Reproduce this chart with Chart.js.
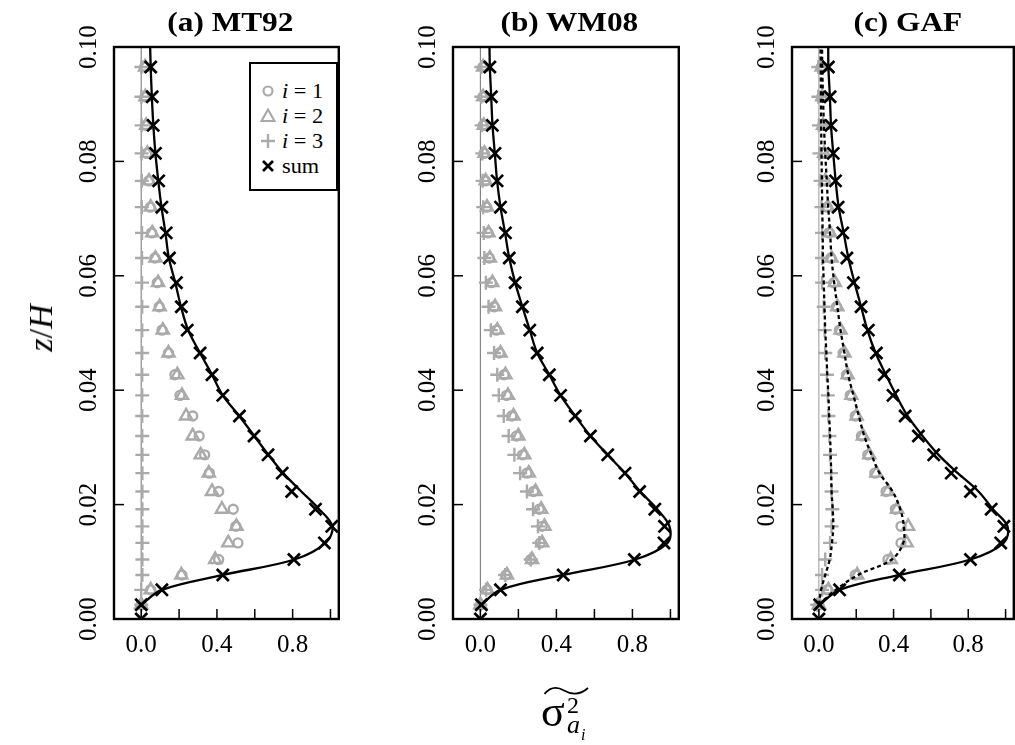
<!DOCTYPE html>
<html>
<head>
<meta charset="utf-8">
<script src="https://cdn.jsdelivr.net/npm/chart.js@4.4.1/dist/chart.umd.min.js"></script>
<style>
  html, body { margin:0; padding:0; background:#fff; }
  body { width:1015px; height:745px; overflow:hidden; position:relative; font-family:'Liberation Serif', 'Times New Roman', serif; }
  canvas { position:absolute; top:0; }
  .title { position:absolute; top:9px; width:300px; text-align:center; font-weight:bold; font-size:27px; line-height:27px; }
  .title span { display:inline-block; transform:scaleX(1.16); }
  #legend { position:absolute; left:249px; top:62px; width:85px; height:125px; border:2px solid #000; background:#fff; z-index:5; }
  .lrow { position:absolute; left:0; width:85px; height:24px; }
  .lrow svg { position:absolute; left:9px; top:4px; }
  .lrow .t { position:absolute; left:31px; top:0px; font-size:21px; line-height:24px; transform:scaleX(1.06); transform-origin:left center; white-space:nowrap; word-spacing:0px; }
  #ylab { position:absolute; left:41px; top:328px; transform:translate(-50%,-50%) rotate(-90deg); font-size:34px; white-space:nowrap; }
  #xlab span { position:absolute; line-height:1; white-space:nowrap; }
</style>
</head>
<body>
<canvas id="ca" width="350" height="745" style="left:0px"></canvas>
<canvas id="cb" width="340" height="745" style="left:350px"></canvas>
<canvas id="cc" width="335" height="745" style="left:690px"></canvas>

<div class="title" style="left:80px"><span>(a) MT92</span></div>
<div class="title" style="left:419px"><span>(b) WM08</span></div>
<div class="title" style="left:758px"><span>(c) GAF</span></div>

<div id="legend">
  <div class="lrow" style="top:15px">
    <svg width="16" height="16"><circle cx="8" cy="8" r="4.5" fill="none" stroke="#aaaaaa" stroke-width="2.2"/></svg>
    <div class="t"><i>i</i> = 1</div>
  </div>
  <div class="lrow" style="top:40px">
    <svg width="16" height="16"><polygon points="8,1.5 14.5,13 1.5,13" fill="none" stroke="#aaaaaa" stroke-width="2.2"/></svg>
    <div class="t"><i>i</i> = 2</div>
  </div>
  <div class="lrow" style="top:65px">
    <svg width="16" height="16"><path d="M8,1 V15 M1,8 H15" stroke="#aaaaaa" stroke-width="2.4"/></svg>
    <div class="t"><i>i</i> = 3</div>
  </div>
  <div class="lrow" style="top:90px">
    <svg width="16" height="16"><path d="M3,3 L13,13 M13,3 L3,13" stroke="#000" stroke-width="2.7"/></svg>
    <div class="t">sum</div>
  </div>
</div>

<div id="ylab"><i>z</i>/<i>H</i></div>

<div id="xlab">
  <svg style="position:absolute;left:543px;top:686px" width="47" height="11"><path d="M1.5,8 C8,0 15,1 21,4.5 C28,8.5 36,10 45,2" fill="none" stroke="#000" stroke-width="1.8"/></svg>
  <span style="left:541px;top:690px;font-size:44px">σ</span>
  <span style="left:567px;top:693px;font-size:24px">2</span>
  <span style="left:567px;top:712px;font-size:26px"><i>a</i></span>
  <span style="left:581px;top:727px;font-size:16px"><i>i</i></span>
</div>

<script>
// ---------------- data ----------------
// heights z/H of the marker levels
const Z = [0, 0.0025, 0.0051, 0.0077, 0.0104, 0.0133, 0.0162, 0.0192, 0.0223, 0.0255, 0.0287, 0.0320, 0.0355, 0.0391, 0.0427, 0.0465, 0.0505, 0.0546, 0.0588, 0.0631, 0.0675, 0.0720, 0.0766, 0.0814, 0.0863, 0.0913, 0.0965];
// heights of the curve nodes
const LZ = [0.0025, 0.0051, 0.0077, 0.0104, 0.0133, 0.0162, 0.0192, 0.0223, 0.0255, 0.0287, 0.0320, 0.0355, 0.0391, 0.0427, 0.0465, 0.0505, 0.0546, 0.0588, 0.0631, 0.0675, 0.0720, 0.0766, 0.0814, 0.0863, 0.0913, 0.0965, 0.1];

// (a) MT92
const A_I1  = [null, 0.0, 0.05, 0.215, 0.409, 0.511, 0.50, 0.486, 0.409, 0.36, 0.335, 0.306, 0.272, 0.205, 0.178, 0.144, 0.11, 0.095, 0.085, 0.072, 0.055, 0.048, 0.04, 0.03, 0.025, 0.02, 0.018];
const A_I2  = [null, 0.0, 0.05, 0.212, 0.391, 0.46, 0.503, 0.426, 0.374, 0.357, 0.314, 0.272, 0.237, 0.215, 0.191, 0.144, 0.114, 0.097, 0.089, 0.075, 0.058, 0.05, 0.041, 0.032, 0.026, 0.022, 0.02];
const A_I3  = [null, 0.0, 0.0, 0.006, 0.006, 0.006, 0.006, 0.006, 0.006, 0.006, 0.006, 0.005, 0.005, 0.005, 0.005, 0.005, 0.005, 0.005, 0.004, 0.004, 0.004, 0.003, 0.003, 0.002, 0.002, 0.001, 0.001];
const A_SUM = [0.0, 0.0, 0.109, 0.431, 0.807, 0.968, 1.007, 0.921, 0.795, 0.745, 0.670, 0.596, 0.519, 0.431, 0.374, 0.311, 0.243, 0.212, 0.186, 0.149, 0.132, 0.109, 0.092, 0.075, 0.063, 0.058, 0.050];
const A_LINE = [0.0, 0.109, 0.431, 0.81, 0.975, 1.01, 0.94, 0.846, 0.75, 0.672, 0.597, 0.518, 0.431, 0.374, 0.311, 0.248, 0.21, 0.18, 0.146, 0.128, 0.107, 0.09, 0.075, 0.064, 0.056, 0.050, 0.047];

// (b) WM08
const B_I1  = [null, 0.0, 0.035, 0.135, 0.265, 0.315, 0.325, 0.31, 0.28, 0.245, 0.222, 0.19, 0.165, 0.138, 0.125, 0.1, 0.084, 0.072, 0.058, 0.047, 0.04, 0.033, 0.026, 0.02, 0.016, 0.014, 0.013];
const B_I2  = [null, 0.0, 0.037, 0.14, 0.272, 0.325, 0.337, 0.32, 0.29, 0.255, 0.231, 0.2, 0.174, 0.145, 0.132, 0.106, 0.089, 0.077, 0.063, 0.05, 0.043, 0.035, 0.028, 0.022, 0.018, 0.015, 0.015];
const B_I3  = [null, 0.0, 0.03, 0.13, 0.265, 0.31, 0.303, 0.277, 0.245, 0.209, 0.179, 0.149, 0.123, 0.097, 0.089, 0.072, 0.055, 0.043, 0.029, 0.021, 0.018, 0.015, 0.012, 0.01, 0.007, 0.005, 0.005];
const B_SUM = [0.0, 0.005, 0.106, 0.436, 0.810, 0.966, 0.969, 0.918, 0.838, 0.761, 0.670, 0.579, 0.499, 0.422, 0.363, 0.299, 0.260, 0.221, 0.183, 0.152, 0.132, 0.106, 0.088, 0.077, 0.063, 0.058, 0.050];
const B_LINE = [0.005, 0.106, 0.436, 0.815, 0.985, 0.995, 0.93, 0.841, 0.761, 0.670, 0.579, 0.499, 0.422, 0.363, 0.299, 0.26, 0.221, 0.183, 0.152, 0.13, 0.106, 0.088, 0.076, 0.064, 0.057, 0.05, 0.048];

// (c) GAF
const C_I1  = [null, 0.0, 0.045, 0.195, 0.37, 0.44, 0.44, 0.41, 0.36, 0.3, 0.262, 0.228, 0.195, 0.168, 0.148, 0.13, 0.11, 0.094, 0.08, 0.064, 0.055, 0.044, 0.031, 0.025, 0.02, 0.016, 0.013];
const C_I2  = [null, 0.0, 0.051, 0.205, 0.385, 0.47, 0.478, 0.419, 0.37, 0.308, 0.270, 0.236, 0.202, 0.174, 0.154, 0.137, 0.116, 0.099, 0.086, 0.068, 0.06, 0.048, 0.034, 0.028, 0.022, 0.018, 0.015];
const C_I3  = [null, -0.009, 0.017, 0.017, 0.034, 0.06, 0.068, 0.072, 0.068, 0.065, 0.06, 0.056, 0.051, 0.048, 0.043, 0.034, 0.031, 0.026, 0.017, 0.017, 0.017, 0.014, 0.009, 0.003, 0.0, -0.003, -0.003];
const C_SUM = [0.0, 0.004, 0.111, 0.431, 0.812, 0.974, 0.991, 0.923, 0.812, 0.709, 0.615, 0.533, 0.462, 0.397, 0.350, 0.308, 0.265, 0.226, 0.185, 0.150, 0.128, 0.103, 0.089, 0.077, 0.065, 0.060, 0.051];
const C_LINE = [0.004, 0.111, 0.431, 0.812, 0.99, 1.01, 0.932, 0.855, 0.744, 0.641, 0.555, 0.475, 0.414, 0.359, 0.304, 0.26, 0.226, 0.191, 0.158, 0.133, 0.106, 0.09, 0.077, 0.065, 0.059, 0.051, 0.05];
const C_DOT2 = [0.0, 0.09, 0.21, 0.39, 0.452, 0.455, 0.436, 0.395, 0.325, 0.282, 0.243, 0.214, 0.185, 0.157, 0.137, 0.116, 0.099, 0.082, 0.068, 0.06, 0.05, 0.042, 0.034, 0.027, 0.022, 0.018, 0.017];
const C_DOT3 = [0.0, 0.012, 0.034, 0.058, 0.07, 0.077, 0.074, 0.068, 0.066, 0.063, 0.06, 0.055, 0.051, 0.045, 0.04, 0.034, 0.03, 0.026, 0.022, 0.02, 0.018, 0.016, 0.014, 0.012, 0.011, 0.01, 0.009];

const X_TICKS = [0, 0.2, 0.4, 0.6, 0.8, 1.0];
const X_LABELS = ['0.0', '', '0.4', '', '0.8', ''];
const Y_TICKS = [0, 0.02, 0.04, 0.06, 0.08, 0.10];
const Y_LABELS = ['0.00', '0.02', '0.04', '0.06', '0.08', '0.10'];
const X_RANGE = [-0.144, 1.044];
const Y_RANGE = [0, 0.1];

// ---------------- helpers ----------------
const GREY = '#aaaaaa';
function pts(zs, xs) {
  const out = [];
  for (let i = 0; i < zs.length; i++) if (xs[i] !== null) out.push({x: xs[i], y: zs[i]});
  return out;
}
function markers(zs, xs, style, color, r, bw, order) {
  return { data: pts(zs, xs), showLine: false, pointStyle: style, pointRadius: r, pointHoverRadius: r,
    pointBorderColor: color, pointBackgroundColor: 'rgba(0,0,0,0)', pointBorderWidth: bw, order: order, clip: 0 };
}
function curve(zs, xs, dash, order) {
  return { data: pts(zs, xs), showLine: true, pointRadius: 0, borderColor: '#000', borderWidth: 2.3,
    borderDash: dash || [], tension: 0.35, fill: false, order: order, clip: 0 };
}
function zeroLine(color, w) {
  return { data: [{x: 0, y: Y_RANGE[0]}, {x: 0, y: Y_RANGE[1]}], showLine: true, pointRadius: 0,
    borderColor: color, borderWidth: w, order: 20, clip: 0 };
}

const frame = {
  id: 'frame',
  afterDatasetsDraw(chart) {
    const {ctx, chartArea: a, scales: {x, y}} = chart;
    ctx.save();
    ctx.strokeStyle = '#000';
    ctx.lineWidth = 1.5;
    X_TICKS.forEach(v => { const p = x.getPixelForValue(v); ctx.beginPath(); ctx.moveTo(p, a.bottom); ctx.lineTo(p, a.bottom - 10); ctx.stroke(); });
    Y_TICKS.forEach(v => { const p = y.getPixelForValue(v); ctx.beginPath(); ctx.moveTo(a.left, p); ctx.lineTo(a.left + 10, p); ctx.stroke(); });
    ctx.lineWidth = 2.4;
    ctx.strokeRect(a.left, a.top, a.right - a.left, a.bottom - a.top);
    ctx.restore();
  }
};

Chart.defaults.font.family = "'Liberation Serif', 'Times New Roman', serif";
Chart.defaults.color = '#000';

function makeChart(id, datasets, yWidth, padRight) {
  return new Chart(document.getElementById(id), {
    type: 'scatter',
    data: { datasets: datasets },
    options: {
      responsive: false, animation: false, devicePixelRatio: 1,
      layout: { padding: { left: 0, right: padRight, top: 47, bottom: 0 } },
      plugins: { legend: { display: false }, tooltip: { enabled: false }, title: { display: false } },
      events: [],
      scales: {
        x: {
          type: 'linear', min: X_RANGE[0], max: X_RANGE[1],
          grid: { display: false, drawTicks: false }, border: { display: false },
          afterBuildTicks: s => { s.ticks = X_TICKS.map(v => ({value: v})); },
          afterFit: s => { s.height = 126; },
          ticks: { autoSkip: false, padding: 11, font: { size: 25 }, color: '#000', maxRotation: 0,
            callback: (v) => { const i = X_TICKS.findIndex(t => Math.abs(t - v) < 1e-9); return i >= 0 ? X_LABELS[i] : ''; } }
        },
        y: {
          type: 'linear', min: Y_RANGE[0], max: Y_RANGE[1],
          grid: { display: false, drawTicks: false }, border: { display: false },
          afterBuildTicks: s => { s.ticks = Y_TICKS.map(v => ({value: v})); },
          afterFit: s => { s.width = yWidth; },
          ticks: { autoSkip: false, padding: 3, font: { size: 25 }, color: '#000', minRotation: 90, maxRotation: 90, crossAlign: 'center',
            callback: (v) => { const i = Y_TICKS.findIndex(t => Math.abs(t - v) < 1e-9); return i >= 0 ? Y_LABELS[i] : ''; } }
        }
      }
    },
    plugins: [frame]
  });
}

makeChart('ca', [
  markers(Z, A_SUM, 'crossRot', '#000', 8.5, 2.7, 1),
  curve(LZ, A_LINE, null, 2),
  markers(Z, A_I1, 'circle', GREY, 4.5, 2.4, 5),
  markers(Z, A_I2, 'triangle', GREY, 7, 2.4, 6),
  markers(Z, A_I3, 'cross', GREY, 7, 2.4, 7),
  zeroLine('#a0a0a0', 1.5)
], 114, 4.3);

makeChart('cb', [
  markers(Z, B_SUM, 'crossRot', '#000', 8.5, 2.7, 1),
  curve(LZ, B_LINE, null, 2),
  markers(Z, B_I1, 'circle', GREY, 4.5, 2.4, 5),
  markers(Z, B_I2, 'triangle', GREY, 7, 2.4, 6),
  markers(Z, B_I3, 'cross', GREY, 7, 2.4, 7),
  zeroLine('#707070', 1)
], 103, 5.4);

makeChart('cc', [
  markers(Z, C_SUM, 'crossRot', '#000', 8.5, 2.7, 1),
  curve(LZ, C_LINE, null, 2),
  curve(LZ, C_DOT2, [4, 3], 3),
  curve(LZ, C_DOT3, [4, 3], 3),
  markers(Z, C_I1, 'circle', GREY, 4.5, 2.4, 5),
  markers(Z, C_I2, 'triangle', GREY, 7, 2.4, 6),
  markers(Z, C_I3, 'cross', GREY, 7, 2.4, 7),
  zeroLine('#999999', 1)
], 102, 1.4);
</script>
</body>
</html>
